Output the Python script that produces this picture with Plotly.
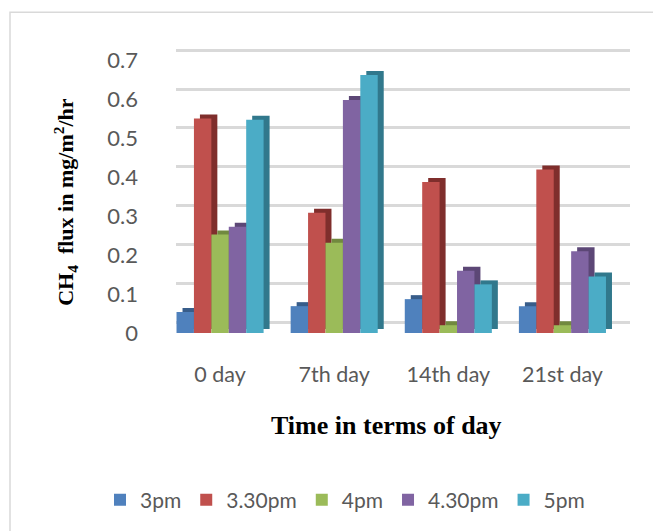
import plotly.graph_objects as go

# ---- data ----
days = ["0 day", "7th day", "14th day", "21st day"]
series_names = ["3pm", "3.30pm", "4pm", "4.30pm", "5pm"]
v_3pm = [0.054, 0.069, 0.087, 0.069]
v_330pm = [0.551, 0.309, 0.388, 0.420]
v_4pm = [0.253, 0.232, 0.020, 0.020]
v_430pm = [0.273, 0.599, 0.160, 0.210]
v_5pm = [0.548, 0.663, 0.125, 0.145]
y_ticks = [0, 0.1, 0.2, 0.3, 0.4, 0.5, 0.6, 0.7]
y_tick_text = ["0", "0.1", "0.2", "0.3", "0.4", "0.5", "0.6", "0.7"]

values = [v_3pm, v_330pm, v_4pm, v_430pm, v_5pm]
front_colors = ["#4F81BD", "#C0504D", "#9BBB59", "#8064A2", "#4BACC6"]
side_colors = ["#385D8A", "#7F2E2C", "#71893F", "#5C4776", "#31788C"]

# ---- layout geometry ----
# page has an 8px body margin: figure coords = page coords - 8
OFF = 8
FW, FH = 661 - OFF, 531 - OFF
L = 163 - OFF
R = FW - (630 - OFF)
T = 44.9 - OFF
B = FH - (333.5 - OFF)
W = FW - L - R
H = FH - T - B
YMAX = 0.74
px_per_unit = H / YMAX


def fx(px):  # page px -> paper fraction
    return (px - OFF - L) / W


def fy(py):
    return (FH - B - (py - OFF)) / H


cat_px = (619.5 - 163) / 4.0  # px per category
cluster = 0.763
bw = cluster / 5
depth_dx = 6 / cat_px
depth_dy = 4 / px_per_unit
grid_shift = 10.5 / px_per_unit

fig = go.Figure()

# anchor trace for the back-wall gridline axes
fig.add_trace(go.Scatter(x=[0.5], y=[0.3], xaxis="x", yaxis="y",
                         showlegend=False, hoverinfo="skip", mode="markers",
                         marker=dict(opacity=0)))

# side/top faces (drawn first)
for i, (name, vals) in enumerate(zip(series_names, values)):
    fig.add_trace(go.Bar(
        x=days, y=vals, base=[depth_dy] * len(vals),
        offset=-cluster / 2 + i * bw + depth_dx, width=bw,
        marker=dict(color=side_colors[i], line=dict(width=0)),
        xaxis="x2", yaxis="y2", showlegend=False, hoverinfo="skip"))

# front faces
for i, (name, vals) in enumerate(zip(series_names, values)):
    fig.add_trace(go.Bar(
        x=days, y=vals, name=name,
        offset=-cluster / 2 + i * bw, width=bw,
        marker=dict(color=front_colors[i], line=dict(width=0)),
        xaxis="x2", yaxis="y2"))

fig.update_layout(
    width=FW, height=FH,
    margin=dict(l=L, r=R, t=T, b=B, pad=0, autoexpand=False),
    paper_bgcolor="white",
    plot_bgcolor="rgba(0,0,0,0)",
    barmode="overlay",
    font=dict(family="Lato", size=20, color="#595959"),
    xaxis=dict(domain=[fx(176), 1], range=[0, 1], showgrid=False,
               showticklabels=False, zeroline=False, showline=False,
               fixedrange=True),
    yaxis=dict(domain=[0, 1], range=[-grid_shift, YMAX - grid_shift],
               tickvals=y_ticks, showticklabels=False, showgrid=True,
               gridcolor="#D9D9D9", gridwidth=2.5, zeroline=False,
               showline=False, anchor="x"),
    xaxis2=dict(domain=[0, fx(619.5)], anchor="y2", type="category",
                range=[-0.5, 3.5], showgrid=False, zeroline=False,
                showline=False, ticks="", ticklabelstandoff=26,
                tickfont=dict(family="Lato", size=21.5, color="#595959")),
    yaxis2=dict(domain=[0, 1], anchor="x2", range=[0, YMAX],
                tickvals=y_ticks, ticktext=y_tick_text, showgrid=False,
                zeroline=False, showline=False, ticks="",
                ticklabelstandoff=24,
                tickfont=dict(family="Lato", size=22, color="#595959")),
    legend=dict(orientation="h", x=fx(100), y=fy(501), xanchor="left",
                yanchor="middle", font=dict(family="Lato", size=21,
                                            color="#595959"),
                traceorder="normal", bgcolor="rgba(0,0,0,0)"),
    showlegend=True,
    annotations=[
        dict(text="<b>Time in terms of day</b>", xref="paper", yref="paper",
             x=fx(386.5), y=fy(426), xanchor="center", yanchor="middle",
             showarrow=False,
             font=dict(family="Liberation Serif", size=26, color="black")),
        dict(text="<b>CH<sub>4</sub>  flux in mg/m<sup>2</sup>/hr</b>",
             xref="paper", yref="paper", x=fx(66), y=fy(202),
             xanchor="center", yanchor="middle", textangle=-90,
             showarrow=False,
             font=dict(family="Liberation Serif", size=22, color="black")),
    ],
    shapes=[
        dict(type="rect", xref="paper", yref="paper",
             x0=fx(10), x1=fx(700), y0=fy(12), y1=fy(560),
             line=dict(color="#D9D9D9", width=1.5), fillcolor="rgba(0,0,0,0)",
             layer="below"),
    ],
)

fig.write_html("out.html")
